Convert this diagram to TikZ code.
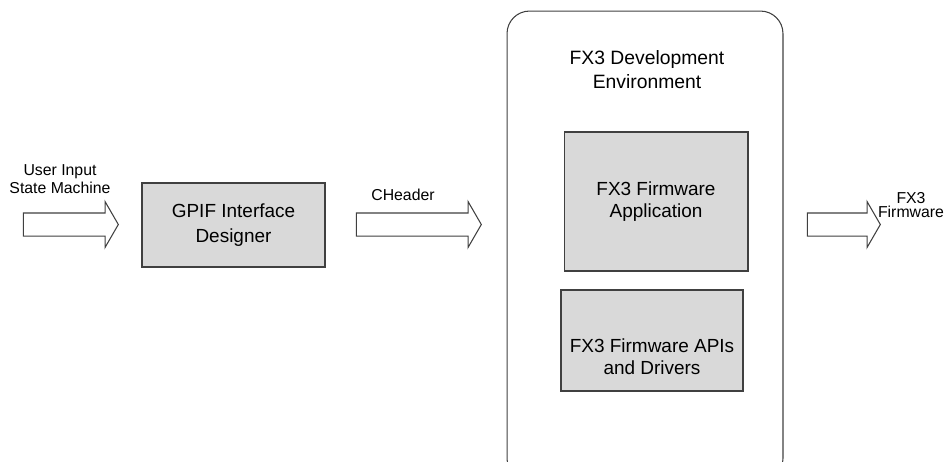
\documentclass[tikz,border=0pt]{standalone}
\usepackage{fontspec}
\setmainfont{Liberation Sans}
\usetikzlibrary{shapes.arrows}
\definecolor{linegray}{RGB}{64,64,64}
\definecolor{boxgray}{RGB}{217,217,217}
\newcommand{\lbl}[1]{\fontsize{9}{10.2}\selectfont #1}

\begin{document}
\begin{tikzpicture}[
    x=0.02cm, y=-0.02cm,
    block/.style={rectangle,draw=linegray,fill=boxgray,line width=0.6pt,align=center},
    env/.style={rectangle,rounded corners=0.45cm,draw=linegray,line width=0.6pt,
      minimum width=5.52cm,minimum height=9.4cm},
    flow/.style={single arrow,draw=linegray,fill=white,line width=0.6pt,
      inner xsep=0pt,inner ysep=0.22cm,single arrow head extend=0.23cm,
      single arrow tip angle=120,single arrow head indent=0pt},
    tag/.style={align=center,inner sep=0pt,font=\lbl}
  ]
    \clip (0,0) rectangle (946,461);
    \node[env] (devenv) at (645,246) {};
    \node[tag,font=\fontsize{11}{13.6}\selectfont] (envtitle) at (647,70) {FX3 Development\\Environment};

    \node[flow,minimum height=1.9cm] (input) at (67.5,224.5) {};
    \node[tag] (inputlbl) at (60,179) {User Input\\State Machine};

    \node[block,minimum width=3.66cm,minimum height=1.68cm,
      font=\fontsize{10.8}{14.2}\selectfont] (gpif) at (233.5,225) {GPIF Interface\\Designer};

    \node[flow,minimum height=2.5cm] (cheader) at (415.5,224.5) {};
    \node[tag] (cheaderlbl) at (403,195) {CHeader};

    \node[block,minimum width=3.68cm,minimum height=2.78cm,
      font=\fontsize{10.8}{12.5}\selectfont] (app) at (656,201.5) {FX3 Firmware\\Application};
    \node[block,minimum width=3.64cm,minimum height=2.02cm] (apis) at (652,340.5) {};
    \node[tag,font=\fontsize{10.8}{12.5}\selectfont] (apistext) at (652,357) {FX3 Firmware APIs\\and Drivers};

    \node[flow,minimum height=1.46cm] (output) at (840.5,224.5) {};
    \node[tag,font=\fontsize{9}{7.6}\selectfont] (outputlbl) at (911,205) {FX3\\Firmware};
  \end{tikzpicture}
\end{document}
